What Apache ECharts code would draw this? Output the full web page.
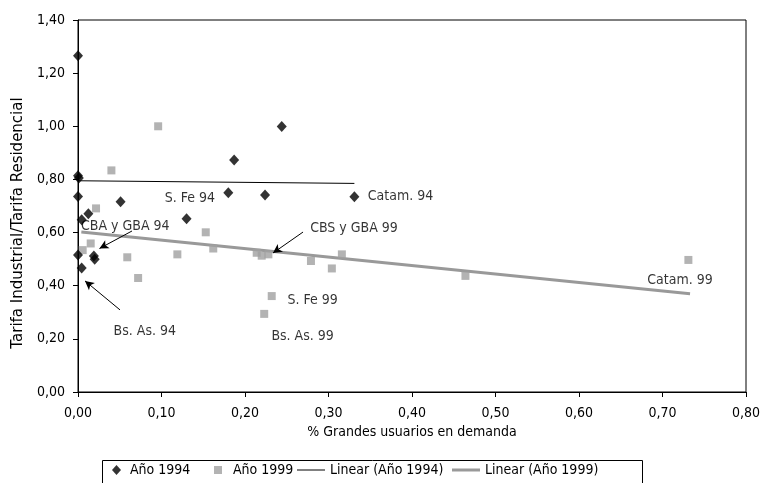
<!DOCTYPE html>
<html>
<head>
<meta charset="utf-8">
<script src="https://cdn.jsdelivr.net/npm/echarts@6/dist/echarts.min.js"></script>
<style>html,body{margin:0;padding:0;background:#fff}#c{width:764px;height:483px}</style>
</head>
<body>
<div id="c"></div>
<script>
// Año 1994 (x = % grandes usuarios, y = tarifa industrial / residencial)
const x1994 = [0.000, 0.000, 0.001, 0.000, 0.0124, 0.0044, 0.051, 0.130, 0.180, 0.187, 0.244, 0.224, 0.331, 0.000, 0.019, 0.020, 0.0044];
const y1994 = [1.265, 0.814, 0.805, 0.736, 0.671, 0.648, 0.716, 0.652, 0.750, 0.873, 0.999, 0.741, 0.735, 0.516, 0.512, 0.500, 0.467];
// Año 1999
const x1999 = [0.096, 0.040, 0.0216, 0.0056, 0.0152, 0.059, 0.072, 0.119, 0.153, 0.162, 0.214, 0.220, 0.228, 0.279, 0.304, 0.316, 0.232, 0.223, 0.464, 0.731];
const y1999 = [1.000, 0.834, 0.691, 0.534, 0.559, 0.507, 0.429, 0.518, 0.601, 0.540, 0.524, 0.513, 0.518, 0.493, 0.465, 0.518, 0.361, 0.294, 0.437, 0.497];
// Linear trend endpoints
const trend1994X = [0.000, 0.331];
const trend1994Y = [0.795, 0.785];
const trend1999X = [0.004, 0.733];
const trend1999Y = [0.602, 0.370];
// Axis ticks
const xTicks = [0, 0.1, 0.2, 0.3, 0.4, 0.5, 0.6, 0.7, 0.8];
const yTicks = [0, 0.2, 0.4, 0.6, 0.8, 1.0, 1.2, 1.4];
// Annotations
const annotText = ['S. Fe 94', 'Catam. 94', 'CBA y GBA 94', 'CBS y GBA 99', 'S. Fe 99', 'Bs. As. 99', 'Bs. As. 94', 'Catam. 99'];
const annotX = [0.134, 0.347, 0.0036, 0.278, 0.281, 0.269, 0.080, 0.721];
const annotY = [0.730, 0.738, 0.625, 0.617, 0.346, 0.211, 0.227, 0.422];
const annotLeft = [false, true, true, true, false, false, false, false];
// Arrows (tail -> head)
const arrowTailX = [0.0647, 0.0503, 0.2695];
const arrowTailY = [0.606, 0.309, 0.602];
const arrowHeadX = [0.0257, 0.0084, 0.2335];
const arrowHeadY = [0.540, 0.418, 0.523];

const FONT = '"DejaVu Sans Condensed", "Liberation Sans", sans-serif';
const FS = 14;
const zip = (a, b) => a.map((v, i) => [v, b[i]]);
const fmt = v => v.toFixed(2).replace('.', ',');
const legText = (pad) => ({fontFamily: FONT, fontSize: FS, color: '#000', padding: [0, 0, 0, pad]});

const chart = echarts.init(document.getElementById('c'), null, {renderer: 'canvas'});
chart.setOption({
  animation: false,
  backgroundColor: '#fff',
  textStyle: {fontFamily: FONT, color: '#000'},
  grid: {left: 78, top: 20, right: 18, bottom: 91, show: true, borderColor: '#000', borderWidth: 1, backgroundColor: 'transparent'},
  xAxis: {
    type: 'value', min: xTicks[0], max: xTicks[xTicks.length - 1], interval: 0.1,
    name: '% Grandes usuarios en demanda', nameLocation: 'middle', nameGap: 33,
    nameTextStyle: {fontFamily: FONT, fontSize: FS, color: '#000'},
    axisLine: {show: true, onZero: false, lineStyle: {color: '#000', width: 1}},
    axisTick: {show: true, length: 5, lineStyle: {color: '#000'}},
    axisLabel: {fontFamily: FONT, fontSize: FS, color: '#000', margin: 14, formatter: fmt},
    splitLine: {show: false}
  },
  yAxis: {
    type: 'value', min: yTicks[0], max: yTicks[yTicks.length - 1], interval: 0.2,
    name: 'Tarifa Industrial/Tarifa Residencial', nameLocation: 'middle', nameGap: 50, nameRotate: 90,
    nameTextStyle: {fontFamily: '"DejaVu Sans", sans-serif', fontSize: 15, color: '#000', padding: [0, 34, 0, 0]},
    axisLine: {show: true, onZero: false, lineStyle: {color: '#000', width: 1}},
    axisTick: {show: true, length: 5, lineStyle: {color: '#000'}},
    axisLabel: {fontFamily: FONT, fontSize: FS, color: '#000', margin: 13, formatter: fmt},
    splitLine: {show: false}
  },
  legend: [
    {data: [{name: 'Año 1994', icon: 'diamond'}], left: 112, top: 463, itemWidth: 9, itemHeight: 10, padding: 0, textStyle: legText(4)},
    {data: [{name: 'Año 1999', icon: 'rect'}], left: 214, top: 463, itemWidth: 8, itemHeight: 8, padding: 0, textStyle: legText(6)},
    {data: [{name: 'Linear (Año 1994)', icon: 'path://M0 0H28V1H0Z'}], left: 297, top: 463, itemWidth: 28, itemHeight: 10, padding: 0, textStyle: legText(0)},
    {data: [{name: 'Linear (Año 1999)', icon: 'path://M0 0H28V3H0Z'}], left: 452, top: 463, itemWidth: 28, itemHeight: 10, padding: 0, textStyle: legText(0)}
  ],
  graphic: [{
    type: 'rect', left: 100, top: 458, shape: {width: 540, height: 40},
    style: {fill: 'none', stroke: '#000', lineWidth: 1}, silent: true
  }],
  series: [
    {
      name: 'Año 1994', type: 'scatter', symbol: 'diamond', symbolSize: [10, 11],
      itemStyle: {color: '#000'}, data: zip(x1994, y1994), z: 5
    },
    {
      name: 'Año 1999', type: 'scatter', symbol: 'rect', symbolSize: 8,
      itemStyle: {color: '#a0a0a0'}, data: zip(x1999, y1999), z: 4
    },
    {
      name: 'Linear (Año 1994)', type: 'line', showSymbol: false, symbol: 'none',
      lineStyle: {color: '#000', width: 1}, itemStyle: {color: '#000'},
      data: zip(trend1994X, trend1994Y), z: 3
    },
    {
      name: 'Linear (Año 1999)', type: 'line', showSymbol: false, symbol: 'none',
      lineStyle: {color: '#999', width: 3}, itemStyle: {color: '#999'},
      data: zip(trend1999X, trend1999Y), z: 3
    },
    {
      name: 'annot', type: 'scatter', symbolSize: 0, silent: true, z: 6,
      data: annotText.map((t, i) => ({
        name: t, value: [annotX[i], annotY[i]],
        label: {show: true, position: annotLeft[i] ? 'right' : 'inside', distance: 0,
          formatter: '{b}', fontFamily: FONT, fontSize: FS, color: '#000'}
      })),
      markLine: {
        silent: true, symbol: ['none', 'arrow'], symbolSize: [7, 9], animation: false,
        lineStyle: {color: '#000', width: 1, type: 'solid'}, label: {show: false},
        data: arrowTailX.map((tx, i) => [
          {coord: [tx, arrowTailY[i]]},
          {coord: [arrowHeadX[i], arrowHeadY[i]]}
        ])
      }
    }
  ]
});
</script>
</body>
</html>
